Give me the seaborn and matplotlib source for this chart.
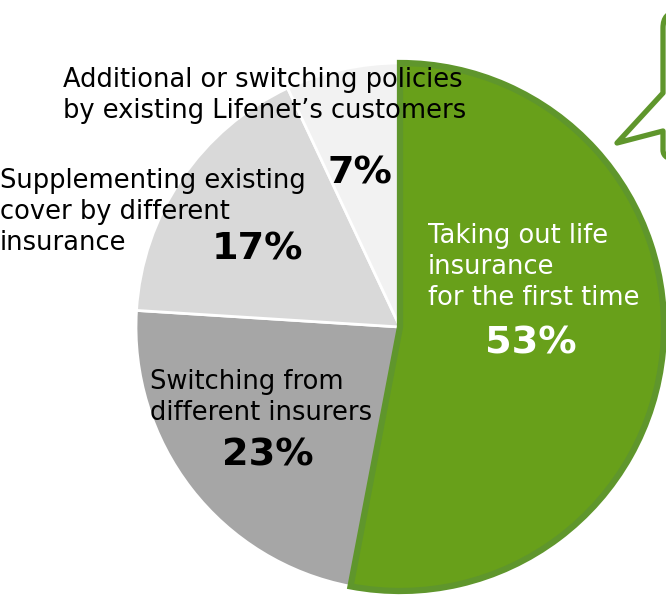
import matplotlib
matplotlib.use("Agg")
import matplotlib.pyplot as plt
import seaborn as sns
from matplotlib.path import Path
from matplotlib.patches import PathPatch

sns.set_style("white")
plt.rcParams['font.family'] = ['DejaVu Sans']

# data
shares = [53, 23, 17, 7]
pct_labels = ['53%', '23%', '17%', '7%']
names = ['Taking out life\ninsurance\nfor the first time',
         'Switching from\ndifferent insurers',
         'Supplementing existing\ncover by different\ninsurance',
         'Additional or switching policies\nby existing Lifenet\u2019s customers']
colors = ['#68a01a', '#a6a6a6', '#d9d9d9', '#f2f2f2']

W, H = 666, 601
fig = plt.figure(figsize=(W / 100, H / 100), dpi=100)
ax = fig.add_axes([0, 0, 1, 1])

# pie (pixel coords, y flipped)
cx, cy, r = 400, H - 327, 264
wedges, _ = ax.pie(shares, colors=colors, startangle=90, counterclock=False,
                   center=(cx, cy), radius=r, frame=True,
                   wedgeprops=dict(edgecolor='white', linewidth=2))
wedges[0].set_edgecolor('#5f962c')
wedges[0].set_linewidth(4.5)
wedges[0].set_zorder(3)
ax.set_xlim(0, W)
ax.set_ylim(0, H)
ax.set_aspect('equal')
ax.axis('off')

# speech bubble at top right
verts = [(700, H - 12), (678, H - 12), (663, H - 12), (663, H - 28),
         (663, H - 93), (617, H - 143), (663, H - 131), (663, H - 150),
         (663, H - 160), (680, H - 160)]
codes = [Path.MOVETO, Path.LINETO, Path.CURVE3, Path.CURVE3,
         Path.LINETO, Path.LINETO, Path.LINETO, Path.LINETO,
         Path.CURVE3, Path.CURVE3]
ax.add_patch(PathPatch(Path(verts, codes), facecolor='none',
                       edgecolor='#5f962c', linewidth=3.8,
                       joinstyle='round', capstyle='round', clip_on=False))

lab_fs = 18.5
pct_fs = 27.5
step = 31  # pixels between label lines

# (left x, first line y, text color) for each category label
name_pos = [(428, 236, 'white'), (150, 382, 'black'),
            (0, 181, 'black'), (63, 80, 'black')]
pct_pos = [(531, 343, 'white'), (268, 456, 'black'),
           (257, 250, 'black'), (360, 173, 'black')]

for name, (x, y, c) in zip(names, name_pos):
    for i, line in enumerate(name.split('\n')):
        ax.text(x, H - (y + i * step), line, color=c, fontsize=lab_fs,
                ha='left', va='center', zorder=5)

for pct, (x, y, c) in zip(pct_labels, pct_pos):
    ax.text(x, H - y, pct, color=c, fontsize=pct_fs, fontweight='bold',
            ha='center', va='center', zorder=5)

fig.savefig('out.png', dpi=100, facecolor='white')
